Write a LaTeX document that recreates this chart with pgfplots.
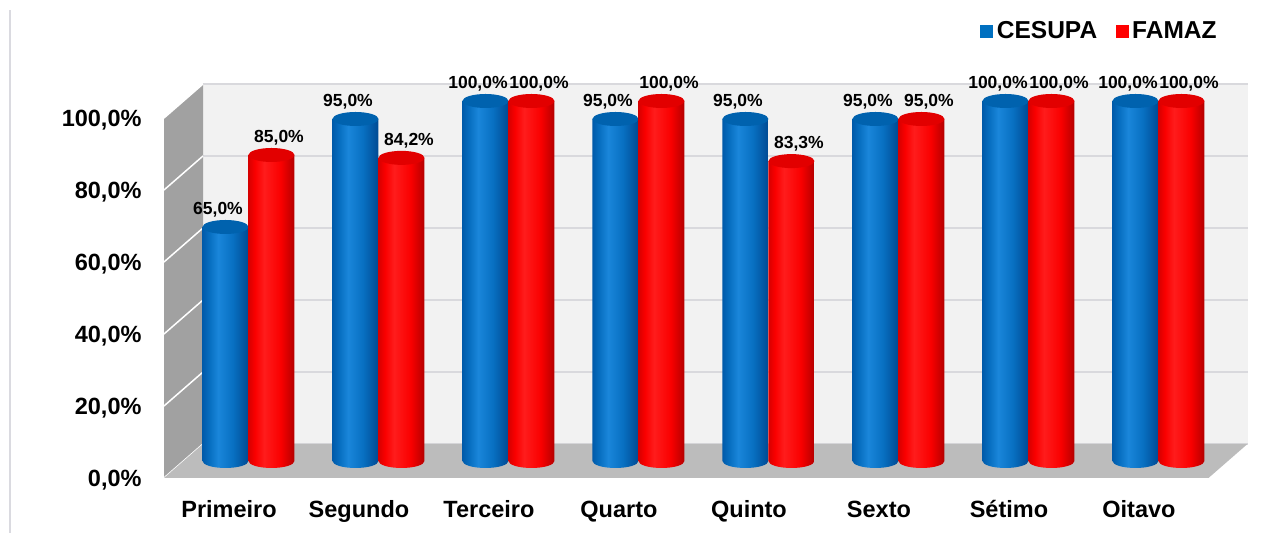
\documentclass[border=0pt]{standalone}
\usepackage{pgfplots}
\pgfplotsset{compat=1.18}
\usepackage{fontspec}
\setmainfont{Liberation Sans}
\definecolor{bE1}{HTML}{005AAA}
\definecolor{bHL}{HTML}{1A86DA}
\definecolor{bM}{HTML}{0870C2}
\definecolor{bE2}{HTML}{004A92}
\definecolor{btop}{HTML}{0062AE}
\definecolor{rE1}{HTML}{D80000}
\definecolor{rHL}{HTML}{FF1C1C}
\definecolor{rM}{HTML}{FA0000}
\definecolor{rE2}{HTML}{B40000}
\definecolor{rtop}{HTML}{E20000}
\definecolor{backwall}{HTML}{F2F2F2}
\definecolor{backgrid}{HTML}{D9D9DD}
\definecolor{sidewall}{HTML}{A1A1A1}
\definecolor{floorc}{HTML}{BCBCBC}
\definecolor{framec}{HTML}{DADAE0}
\definecolor{legblue}{HTML}{0070C0}
\definecolor{legred}{HTML}{FF0000}
\pgfdeclarehorizontalshading{cylBlue}{100bp}{color(0bp)=(bE1); color(25bp)=(bE1); color(33bp)=(bM); color(42bp)=(bHL); color(58bp)=(bM); color(75bp)=(bE2); color(100bp)=(bE2)}
\pgfdeclarehorizontalshading{cylRed}{100bp}{color(0bp)=(rE1); color(25bp)=(rE1); color(32bp)=(rM); color(42bp)=(rHL); color(60bp)=(rM); color(75bp)=(rE2); color(100bp)=(rE2)}
\pgfdeclareplotmark{cylB}{%
  \shade[shading=cylBlue, draw=none] (-9.2pt,0pt) -- ({-9.2pt},{-1.44pt*\rawy}) arc[start angle=180,end angle=360,x radius=9.2pt,y radius=2.8pt] -- (9.2pt,0pt) -- cycle;
  \fill[btop, draw=none] (0pt,0pt) ellipse [x radius=9.2pt, y radius=2.8pt];}
\pgfdeclareplotmark{cylR}{%
  \shade[shading=cylRed, draw=none] (-9.2pt,0pt) -- ({-9.2pt},{-1.44pt*\rawy}) arc[start angle=180,end angle=360,x radius=9.2pt,y radius=2.8pt] -- (9.2pt,0pt) -- cycle;
  \fill[rtop, draw=none] (0pt,0pt) ellipse [x radius=9.2pt, y radius=2.8pt];}
\pgfplotsset{
  vallabel/.style={
    visualization depends on={rawy \as \rawy},
    mark options={draw=none},
    nodes near coords={\pgfmathprintnumber[fixed,fixed zerofill,precision=1,use comma]{\pgfplotspointmeta}\%},
    every node near coord/.append style={font=\bfseries\fontsize{7.0pt}{8.4pt}\selectfont, anchor=base, inner sep=0pt, yshift=5pt, text=black, xshift=#1},
  }
}
\begin{document}
\begin{tikzpicture}
\draw[color=framec, line width=0.6pt] (4pt,0pt) -- (4pt,209.2pt);
\begin{axis}[
  at={(73.4pt,28.8pt)}, anchor=south west,
  scale only axis, width=417.8pt, height=144pt,
  xmin=-0.5, xmax=7.535, ymin=0, ymax=100,
  clip=false, set layers,
  axis line style={draw=none}, major tick length=0pt,
  /pgf/number format/assume math mode=true,
  xtick={0,...,7},
  xticklabels={Primeiro,Segundo,Terceiro,Quarto,Quinto,Sexto,Sétimo,Oitavo},
  ytick={0,20,...,100},
  yticklabel={\pgfmathprintnumber[fixed,fixed zerofill,precision=1,use comma]{\tick}\%},
  ticklabel style={font=\bfseries\fontsize{9.4pt}{11pt}\selectfont},
  yticklabel style={anchor=base east, inner sep=0pt, xshift=-16.6pt, yshift=-10.2pt},
  xticklabel style={anchor=base, inner sep=0pt, xshift=-7.8pt, yshift=-22.8pt},
  legend image code/.code={\fill[#1] (0pt,-2.6pt) rectangle (5.2pt,2.6pt);},
  legend style={at={(0.7625,1.192)}, anchor=west, draw=none, fill=none, inner sep=0pt,
    legend columns=-1, font=\bfseries\fontsize{9.8pt}{11pt}\selectfont,
    nodes={inner sep=1.4pt},
    /tikz/every even column/.append style={column sep=6pt}},
]
\begin{pgfonlayer}{axis background}
  % back wall
  \fill[backwall] ([shift={(7.8pt,6.8pt)}]axis cs:-0.5,0) rectangle ([shift={(7.8pt,6.8pt)}]axis cs:7.535,100);
  \pgfplotsinvokeforeach{0,20,40,60,80,100}{
    \draw[backgrid, line width=0.6pt] ([shift={(7.8pt,6.8pt)}]axis cs:-0.5,#1) -- ([shift={(7.8pt,6.8pt)}]axis cs:7.535,#1);
  }
  % side wall
  \fill[sidewall] ([shift={(-7.8pt,-6.8pt)}]axis cs:-0.5,0) -- ([shift={(7.8pt,6.8pt)}]axis cs:-0.5,0)
     -- ([shift={(7.8pt,6.8pt)}]axis cs:-0.5,100) -- ([shift={(-7.8pt,-6.8pt)}]axis cs:-0.5,100) -- cycle;
  \pgfplotsinvokeforeach{0,20,40,60,80,100}{
    \draw[white, line width=0.6pt] ([shift={(-7.8pt,-6.8pt)}]axis cs:-0.5,#1) -- ([shift={(7.8pt,6.8pt)}]axis cs:-0.5,#1);
  }
  % floor
  \fill[floorc] ([shift={(-7.8pt,-6.8pt)}]axis cs:-0.5,0) -- ([shift={(-7.8pt,-6.8pt)}]axis cs:7.535,0)
     -- ([shift={(7.8pt,6.8pt)}]axis cs:7.535,0) -- ([shift={(7.8pt,6.8pt)}]axis cs:-0.5,0) -- cycle;
\end{pgfonlayer}

% CESUPA
\addplot[only marks, draw=none, mark=cylB, xshift=-9.2pt, forget plot, vallabel=-3pt]
  coordinates {(0,65) (1,95) (2,100) (3,95) (4,95) (5,95) (6,100) (7,100)};

% FAMAZ
\addplot[only marks, draw=none, mark=cylR, xshift=9.2pt, forget plot, vallabel=3pt]
  coordinates {(0,85) (1,84.2) (2,100) (3,100) (4,83.3) (5,95) (6,100) (7,100)};

\addlegendimage{fill=legblue, draw=none}
\addlegendentry{CESUPA}
\addlegendimage{fill=legred, draw=none}
\addlegendentry{FAMAZ}
\end{axis}
\pgfresetboundingbox
\useasboundingbox (0,0) rectangle (512.4pt,213.2pt);
\end{tikzpicture}
\end{document}
